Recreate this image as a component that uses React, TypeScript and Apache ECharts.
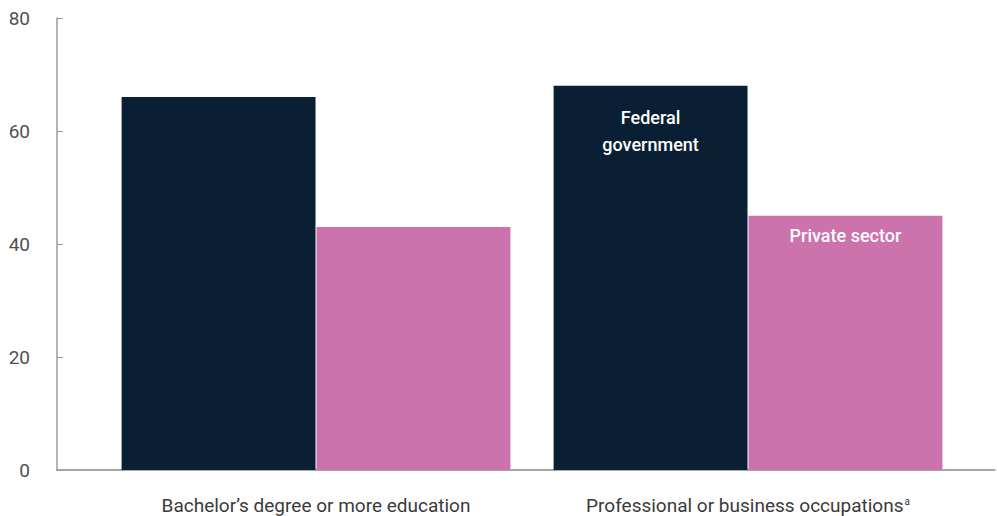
import React, { useEffect, useRef } from "react";
import * as echarts from "echarts";

const categories = ["Bachelor’s degree or more education", "Professional or business occupations"];
const federal = [66, 68];
const privateSector = [43, 45];
const yTicks = [0, 20, 40, 60, 80];

const FONT = "Roboto, 'Noto Sans', sans-serif";

export default function App() {
  const ref = useRef<HTMLDivElement>(null);
  useEffect(() => {
    if (!ref.current) return;
    const chart = echarts.init(ref.current, undefined, { renderer: "svg" });
    const top = 18;
    const bottom = 46;
    chart.setOption({
      animation: false,
      grid: [
        { left: 100, right: 33, top, bottom },
        { left: 57, right: 2, top, bottom },
      ],
      xAxis: [
        {
          type: "category",
          gridIndex: 0,
          data: categories,
          axisLine: { show: false },
          axisTick: { show: false },
          axisLabel: {
            interval: 0,
            margin: 26,
            fontFamily: FONT,
            fontSize: 19,
            color: "#3a3a3a",
            formatter: (v: string, i: number) => (i === 1 ? `{t|${v}}{sup|a}` : `{t|${v}}`),
            rich: {
              t: { fontFamily: FONT, fontSize: 19, color: "#3a3a3a" },
              sup: { fontFamily: FONT, fontSize: 10, color: "#3a3a3a", verticalAlign: "top", padding: [0, 0, 9, 1] },
            },
          },
        },
        {
          type: "value",
          gridIndex: 1,
          min: 0,
          max: 1,
          axisLine: { show: true, onZero: false, lineStyle: { color: "#8a8a8a", width: 1.5 } },
          axisTick: { show: false },
          axisLabel: { show: false },
          splitLine: { show: false },
        },
      ],
      yAxis: [
        {
          type: "value",
          gridIndex: 0,
          min: 0,
          max: 80,
          interval: 20,
          show: false,
        },
        {
          type: "value",
          gridIndex: 1,
          min: yTicks[0],
          max: yTicks[yTicks.length - 1],
          interval: 20,
          axisLine: { show: true, lineStyle: { color: "#9a9a9a", width: 1.5 } },
          axisTick: { show: true, inside: true, length: 6, lineStyle: { color: "#9a9a9a" } },
          axisLabel: { margin: 27, fontFamily: FONT, fontSize: 19, color: "#505050" },
          splitLine: { show: false },
        },
      ],
      series: [
        {
          name: "Federal government",
          type: "bar",
          xAxisIndex: 0,
          yAxisIndex: 0,
          barGap: "0.5%",
          barCategoryGap: "10%",
          itemStyle: { color: "#0a1f33" },
          data: federal.map((v, i) =>
            i === 1
              ? {
                  value: v,
                  label: {
                    show: true,
                    position: "insideTop",
                    distance: 18,
                    formatter: "Federal\ngovernment",
                    color: "#ffffff",
                    fontFamily: FONT,
                    fontSize: 18,
                    fontWeight: 500,
                    lineHeight: 27,
                  },
                }
              : v
          ),
        },
        {
          name: "Private sector",
          type: "bar",
          xAxisIndex: 0,
          yAxisIndex: 0,
          barGap: "0.5%",
          barCategoryGap: "10%",
          itemStyle: { color: "#cc72ad" },
          data: privateSector.map((v, i) =>
            i === 1
              ? {
                  value: v,
                  label: {
                    show: true,
                    position: "insideTop",
                    distance: 11,
                    formatter: "Private sector",
                    color: "#ffffff",
                    fontFamily: FONT,
                    fontSize: 18,
                    fontWeight: 500,
                  },
                }
              : v
          ),
        },
      ],
    });
    return () => chart.dispose();
  }, []);
  return <div ref={ref} style={{ width: 997, height: 516, position: "absolute", left: 0, top: 0 }} />;
}
